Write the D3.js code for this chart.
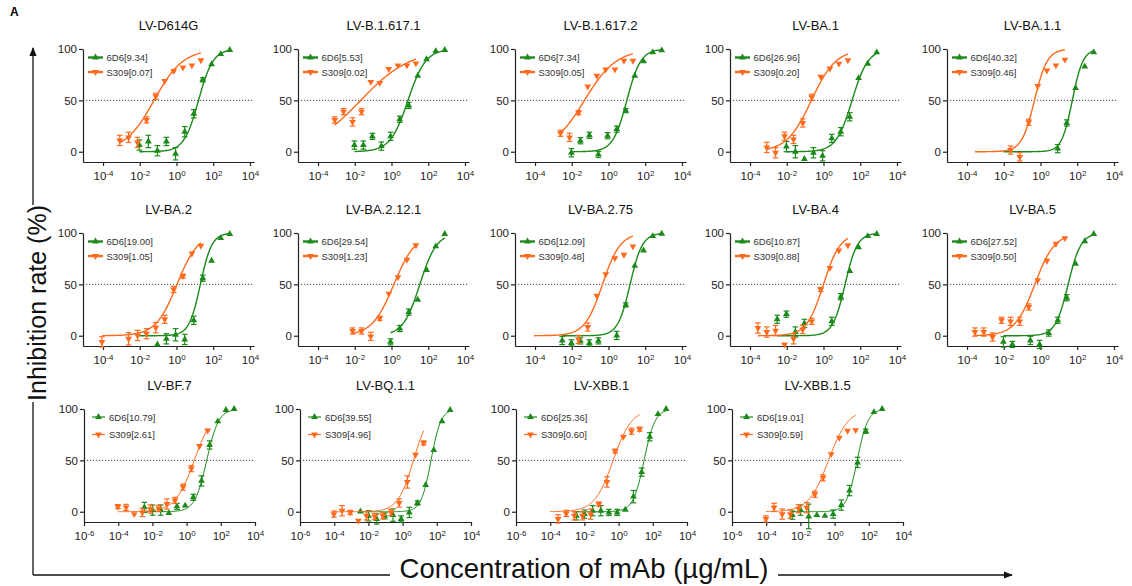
<!DOCTYPE html>
<html>
<head>
<meta charset="utf-8">
<script src="https://cdn.jsdelivr.net/npm/d3@7"></script>
<style>
body { margin: 0; background: #fff; }
svg text { font-family: "Liberation Sans", Arial, sans-serif; }
</style>
</head>
<body>
<div id="chart"></div>
<script>
const variants = ["LV-D614G", "LV-B.1.617.1", "LV-B.1.617.2", "LV-BA.1", "LV-BA.1.1",
  "LV-BA.2", "LV-BA.2.12.1", "LV-BA.2.75", "LV-BA.4", "LV-BA.5",
  "LV-BF.7", "LV-BQ.1.1", "LV-XBB.1", "LV-XBB.1.5"];
const ic50_6D6 = ["9.34", "5.53", "7.34", "26.96", "40.32", "19.00", "29.54", "12.09", "10.87", "27.52", "10.79", "39.55", "25.36", "19.01"];
const ic50_S309 = ["0.07", "0.02", "0.05", "0.20", "0.46", "1.05", "1.23", "0.48", "0.88", "0.50", "2.61", "4.96", "0.60", "0.59"];

// dilution series in µg/mL, highest first (first ten variants / last four)
const dose6D6_a = [794, 257, 81.3, 26.9, 8.71, 2.82, 0.891, 0.282, 0.0912, 0.0295, 0.00955, 0.00302];
const doseS309_a = [21.4, 6.92, 2.24, 0.708, 0.229, 0.0741, 0.0234, 0.00759, 0.00245, 0.000813, 0.000269, 0.0000871];
const dose6D6_b = [600, 200, 66.7, 22.2, 7.41, 2.47, 0.823, 0.274, 0.0914, 0.0305, 0.0102, 0.00339];
const doseS309_b = [17, 5.67, 1.89, 0.63, 0.21, 0.07, 0.0233, 0.00777, 0.00259, 0.000864, 0.000288, 0.000096];

// inhibition (%) and error, one row per variant
const inh6D6 = [
  [99, 95, 85, 70, 37, 19.5, -2, 10, 1, 10, 6.5, null],
  [99, 98, 90, 74, 45, 31.6, 15, 5.5, 15, 6.5, 6.5, null],
  [98.7, 96.7, 88, 74, 40, 22, 15.6, -2.6, 16, 10.7, -1, null],
  [96.7, 85.7, 71.7, 34, 19.5, 13, -4, -1, -7, 0, 5, null],
  [96.7, 83, 62, 28, 3, null, null, null, null, null, null, null],
  [99, 95, 73, 56, 15, -3.6, 1, -3, -8.5, null, null, null],
  [99, 87, 64, 35, 23, 7, -6, null, null, null, null, null],
  [99.3, 97, 83, 68, 30, 0.3, null, -5, -7, -5, -7, -4.6],
  [99, 97, 86, 63, 38, 14, null, null, 12, 3.6, 21, 16],
  [99, 92, 70, 37, 15, 2.6, -8.5, -4.6, null, -8.5, -6, null],
  [100, 99, 88, 65, 30, 14, 6, 5.2, -1.3, 1.6, 1.6, 4.2],
  [99, 88, 60, 26, 8.5, -0.7, -7, -3.3, -4, -7, -4, 0.3],
  [100, 95, 73, 38.6, 14.7, 2, -0.7, -0.7, 1, 1, -2.3, -4],
  [100, 97, 78.4, 48, 20.6, 6.5, -2.3, -4, -3.3, -4.6, 1.6, -3.3]
];
const err6D6 = [
  [0, 0, 0, 2, 4, 5, 6, 4, 5, 6, 5, 0],
  [0, 0, 0, 0, 3, 3, 4, 4, 3, 4, 4, 0],
  [0, 0, 0, 0, 2, 3, 3, 3, 3, 3, 4, 0],
  [0, 0, 0, 4, 4, 4, 5, 5, 0, 6, 5, 0],
  [0, 0, 0, 3, 4, 0, 0, 0, 0, 0, 0, 0],
  [0, 0, 0, 3, 4, 5, 6, 5, 0, 0, 0, 0],
  [0, 0, 0, 0, 3, 3, 3, 0, 0, 0, 0, 0],
  [0, 0, 0, 0, 2, 4, 0, 3, 3, 3, 3, 4],
  [0, 0, 0, 0, 3, 4, 0, 0, 4, 5, 3, 4],
  [0, 0, 0, 3, 3, 3, 4, 4, 0, 3, 5, 0],
  [0, 0, 0, 4, 5, 3, 0, 3, 0, 5, 5, 5],
  [0, 0, 0, 0, 2, 5, 3, 6, 3, 5, 5, 0],
  [0, 0, 4, 4, 6, 0, 3, 3, 5, 5, 4, 4],
  [0, 0, 2, 5, 5, 5, 4, 0, 0, 12, 5, 4]
];
const inhS309 = [
  [89, 84, 82, 78.5, 69, 54, 31, 9, 14, 11, null, null],
  [86, 84, 84, 80.5, 67, 68, 39, 29, 39, 31, null, null],
  [88.6, 88.6, 80, 80, 74, 63.5, 38, 14, 18, null, null, null],
  [89, 85.7, 81, 73, 53, 28, 12, 15, -1, 4.2, null, null],
  [89.6, 84, 79, 64, 28.7, -5, 1.6, null, null, null, null, null],
  [87.6, 80, 58, 45, 16, 7.8, 2, 0.3, -3, null, null, -6],
  [88, 74, 57, 41, 17, -0.6, 4.6, 4.6, null, null, null, null],
  [87, 78.8, 75.5, 60, 39, 8.5, -3.6, null, null, null, null, null],
  [88, 83, 66, 45, 14, 6, -3, -8.5, 5, 3.6, 7.5, null],
  [95, 89.5, 73, 54, 28, 14, 14, 15, -1.3, 3.6, 3.6, null],
  [79, 64, 42, 24, 11, 7.5, 3.3, 2.6, -0.7, -2.3, 4.2, 5],
  [67, 55.5, 29, 8.5, -0.7, -4, -4.6, -4, -8.8, -0.7, 1, -2.3],
  [80.4, 78.4, 73, 59, 29, 7.5, -2.3, -4, -4, -1.6, -7, null],
  [79.4, 78.8, 72, 56, 33, 17, 4, 3, -2.3, -2.3, 4.2, -7]
];
const errS309 = [
  [0, 0, 0, 0, 0, 3, 3, 5, 5, 5, 0, 0],
  [0, 0, 0, 0, 0, 0, 3, 4, 3, 3, 0, 0],
  [0, 0, 0, 0, 0, 0, 2, 4, 3, 0, 0, 0],
  [0, 0, 0, 0, 3, 4, 4, 4, 5, 5, 0, 0],
  [0, 0, 0, 0, 3, 4, 4, 0, 0, 0, 0, 0],
  [0, 0, 2, 3, 4, 5, 5, 5, 6, 0, 0, 5],
  [0, 0, 0, 0, 2, 4, 3, 3, 0, 0, 0, 0],
  [0, 0, 0, 0, 0, 4, 4, 0, 0, 0, 0, 0],
  [0, 0, 0, 2, 3, 4, 5, 0, 5, 5, 5, 0],
  [0, 0, 0, 0, 3, 4, 4, 3, 4, 4, 4, 0],
  [0, 0, 3, 3, 3, 5, 3, 4, 4, 0, 3, 2],
  [2, 0, 6, 4, 3, 3, 3, 4, 0, 2, 5, 3],
  [2, 3, 0, 2, 5, 2, 5, 4, 4, 3, 4, 0],
  [0, 0, 0, 0, 3, 3, 5, 4, 4, 5, 4, 3]
];

// fitted dose-response curves: 50% point (µg/mL), Hill slope, lowest dose index of the fit
const fitMid6D6 = [15.8, 7.9, 10, 36, 54, 20, 35, 15, 15, 32, 15, 46, 31, 21];
const fitHill6D6 = [1.1, 0.9, 1.15, 1.0, 1.5, 1.4, 0.95, 1.3, 1.3, 1.25, 1.25, 1.5, 1.35, 1.4];
const fitFrom6D6 = [10, 10, 10, 10, 10, 10, 6, 11, 11, 10, 11, 11, 11, 11];
const fitMidS309 = [0.060, 0.021, 0.049, 0.22, 0.47, 1.07, 1.35, 0.47, 1.0, 0.49, 2.8, 4.3, 0.48, 0.44];
const fitHillS309 = [0.55, 0.32, 0.5, 0.65, 1.25, 0.75, 0.73, 0.9, 0.95, 0.8, 0.78, 0.95, 0.8, 0.75];
const fitFromS309 = [9, 9, 8, 9, 10, 11, 7, 11, 10, 10, 11, 11, 11, 11];

const xTicksA = [1e-4, 1e-2, 1, 1e2, 1e4];
const xTicksB = [1e-6, 1e-4, 1e-2, 1, 1e2, 1e4];
const yTicks = [0, 50, 100];

const green = "#1b8a1b", orange = "#ff6a1c";

const svg = d3.select("#chart").append("svg")
  .attr("width", 1132)
  .attr("height", 586);

const rowTop = [49, 233, 409];
const colLeftA = [83, 298, 515, 730, 947];
const colLeftB = [84, 300, 516, 732];
const pw = 171, ph = 113;

const tri = d3.symbol().type(d3.symbolTriangle).size(20);

variants.forEach(function (name, i) {
  const row = i < 5 ? 0 : (i < 10 ? 1 : 2);
  const late = row == 2;
  const left = late ? colLeftB[i - 10] : colLeftA[i % 5];
  const top = rowTop[row];

  const x = d3.scaleLog()
    .domain(late ? [1e-6, 1e4] : [Math.pow(10, -5.09), Math.pow(10, 4.22)])
    .range([0, pw]);
  const y = d3.scaleLinear().domain([-10, 100]).range([ph, 0]);

  const g = svg.append("g").attr("transform", "translate(" + left + "," + top + ")");

  g.append("text")
    .attr("x", pw / 2).attr("y", -19)
    .attr("text-anchor", "middle")
    .style("font-size", "13px").style("fill", "#111")
    .text(name);

  // 50% reference line
  g.append("line")
    .attr("x1", 0).attr("x2", pw)
    .attr("y1", y(50)).attr("y2", y(50))
    .attr("stroke", "#333").attr("stroke-width", 0.9)
    .attr("stroke-dasharray", "1.2,1.8");

  const yAxis = g.append("g")
    .call(d3.axisLeft(y).tickValues(yTicks).tickSize(4).tickSizeOuter(0).tickPadding(2));
  yAxis.selectAll("text").style("font-size", "11.5px").style("fill", "#222");

  const xAxis = g.append("g")
    .attr("transform", "translate(0," + ph + ")")
    .call(d3.axisBottom(x).tickValues(late ? xTicksB : xTicksA).tickSize(4).tickSizeOuter(0).tickFormat(""));
  xAxis.selectAll(".tick").append("text")
    .attr("y", 18)
    .attr("text-anchor", "middle")
    .style("font-size", "11.5px").style("fill", "#222")
    .each(function (d) {
      const t = d3.select(this);
      t.append("tspan").text("10");
      t.append("tspan").attr("dy", "-0.45em").style("font-size", "8px").text(Math.round(Math.log10(d)));
    });
  g.selectAll(".domain, .tick line").attr("stroke", "#222").attr("stroke-width", 1.2);

  const series = [
    { dose: late ? dose6D6_b : dose6D6_a, v: inh6D6[i], e: err6D6[i], mid: fitMid6D6[i], hill: fitHill6D6[i],
      from: fitFrom6D6[i], color: green, up: true, label: "6D6[" + ic50_6D6[i] + "]" },
    { dose: late ? doseS309_b : doseS309_a, v: inhS309[i], e: errS309[i], mid: fitMidS309[i], hill: fitHillS309[i],
      from: fitFromS309[i], color: orange, up: false, label: "S309[" + ic50_S309[i] + "]" }
  ];

  series.forEach(function (s, k) {
    // fitted curve
    const lo = Math.log10(s.dose[s.from]), hi = Math.log10(s.dose[0]);
    const pts = d3.range(0, 101).map(function (j) {
      const lx = lo + (hi - lo) * j / 100;
      return [Math.pow(10, lx), 100 / (1 + Math.pow(10, (Math.log10(s.mid) - lx) * s.hill))];
    });
    g.append("path")
      .datum(pts)
      .attr("fill", "none")
      .attr("stroke", s.color)
      .attr("stroke-width", late ? 1 : 1.4)
      .attr("d", d3.line().x(function (d) { return x(d[0]); }).y(function (d) { return y(d[1]); }));

    const data = s.dose.map(function (c, j) { return { c: c, v: s.v[j], e: s.e[j] }; })
      .filter(function (d) { return d.v !== null; });

    const eb = g.append("g").attr("stroke", s.color).attr("stroke-width", 1.2);
    data.filter(function (d) { return d.e > 0; }).forEach(function (d) {
      const cx = x(d.c);
      eb.append("line").attr("x1", cx).attr("x2", cx).attr("y1", y(d.v - d.e)).attr("y2", y(d.v + d.e));
      eb.append("line").attr("x1", cx - 2.8).attr("x2", cx + 2.8).attr("y1", y(d.v - d.e)).attr("y2", y(d.v - d.e));
      eb.append("line").attr("x1", cx - 2.8).attr("x2", cx + 2.8).attr("y1", y(d.v + d.e)).attr("y2", y(d.v + d.e));
    });

    g.append("g").selectAll("path")
      .data(data)
      .join("path")
      .attr("d", tri)
      .attr("fill", s.color)
      .attr("transform", function (d) {
        return "translate(" + x(d.c) + "," + y(d.v) + ")" + (s.up ? "" : " rotate(180)");
      });

    // legend entry
    const ly = late ? (k == 0 ? 8 : 25.5) : (k == 0 ? 8.5 : 23);
    const lx0 = late ? 8 : 5, lx1 = late ? 21 : 20;
    g.append("line")
      .attr("x1", lx0).attr("x2", lx1).attr("y1", ly).attr("y2", ly)
      .attr("stroke", s.color).attr("stroke-width", late ? 1.2 : 2.4);
    g.append("path")
      .attr("d", tri)
      .attr("fill", s.color)
      .attr("transform", "translate(" + ((lx0 + lx1) / 2) + "," + ly + ")" + (s.up ? "" : " rotate(180)"));
    g.append("text")
      .attr("x", late ? 25 : 23.5).attr("y", ly + 3.5)
      .style("font-size", "9.5px").style("fill", "#333")
      .text(s.label);
  });
});

// panel letter
svg.append("text").attr("x", 10).attr("y", 16)
  .style("font-size", "12px").style("font-weight", "bold").text("A");

// big axis titles with arrows
svg.append("defs").append("marker")
  .attr("id", "arrow").attr("viewBox", "0 0 10 10")
  .attr("refX", 9).attr("refY", 5)
  .attr("markerWidth", 7).attr("markerHeight", 7)
  .attr("orient", "auto")
  .append("path").attr("d", "M0,1 L10,5 L0,9 Z").attr("fill", "#111");

const frame = svg.append("g").attr("stroke", "#111").attr("stroke-width", 1.3).attr("fill", "none");
frame.append("line").attr("x1", 33).attr("x2", 33).attr("y1", 205).attr("y2", 48).attr("marker-end", "url(#arrow)");
frame.append("line").attr("x1", 33).attr("x2", 33).attr("y1", 402).attr("y2", 575);
frame.append("line").attr("x1", 33).attr("x2", 390).attr("y1", 575).attr("y2", 575);
frame.append("line").attr("x1", 778).attr("x2", 1012).attr("y1", 575).attr("y2", 575).attr("marker-end", "url(#arrow)");

svg.append("text")
  .attr("transform", "translate(46,303) rotate(-90)")
  .attr("text-anchor", "middle")
  .style("font-size", "25px").style("fill", "#111")
  .text("Inhibition rate (%)");

svg.append("text")
  .attr("x", 584).attr("y", 578)
  .attr("text-anchor", "middle")
  .style("font-size", "27.5px").style("fill", "#111")
  .text("Concentration of mAb (µg/mL)");
</script>
</body>
</html>
